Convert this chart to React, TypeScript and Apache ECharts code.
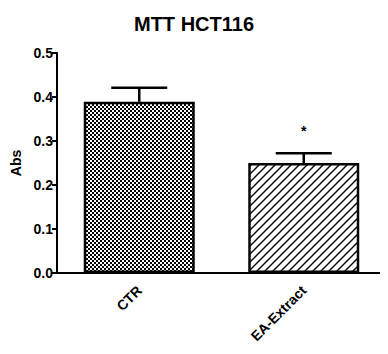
import React, { useEffect, useRef } from "react";
import * as echarts from "echarts";

const categories = ["CTR", "EA-Extract"];
const means = [0.389, 0.25];
const errors = [0.032, 0.022];
const significance = ["", "*"];
const yTicks = [0, 0.1, 0.2, 0.3, 0.4, 0.5];

const FONT = "Arial, 'Liberation Sans', sans-serif";

function makeChecker(): HTMLCanvasElement {
  const c = document.createElement("canvas");
  c.width = 4;
  c.height = 4;
  const ctx = c.getContext("2d")!;
  ctx.fillStyle = "#ffffff";
  ctx.fillRect(0, 0, 4, 4);
  ctx.fillStyle = "#000000";
  ctx.fillRect(0, 0, 2, 2);
  ctx.fillRect(2, 2, 2, 2);
  return c;
}

function makeHatch(): HTMLCanvasElement {
  const s = 8;
  const c = document.createElement("canvas");
  c.width = s;
  c.height = s;
  const ctx = c.getContext("2d")!;
  ctx.fillStyle = "#ffffff";
  ctx.fillRect(0, 0, s, s);
  ctx.strokeStyle = "#000000";
  ctx.lineWidth = 1.4;
  ctx.beginPath();
  ctx.moveTo(-1, s + 1);
  ctx.lineTo(s + 1, -1);
  ctx.moveTo(-2, 2);
  ctx.lineTo(2, -2);
  ctx.moveTo(s - 2, s + 2);
  ctx.lineTo(s + 2, s - 2);
  ctx.stroke();
  return c;
}

export default function App() {
  const ref = useRef<HTMLDivElement>(null);
  useEffect(() => {
    if (!ref.current) return;
    const chart = echarts.init(ref.current, null, { renderer: "svg" });
    const patterns = [makeChecker(), makeHatch()];
    chart.setOption({
      animation: false,
      backgroundColor: "#ffffff",
      title: {
        text: "MTT HCT116",
        left: "center",
        top: 9,
        textStyle: { fontFamily: FONT, fontSize: 20, fontWeight: "bold", color: "#000" },
      },
      grid: { left: 57, right: 2, top: 53, bottom: 81 },
      xAxis: {
        type: "category",
        data: categories,
        axisLine: { lineStyle: { color: "#000", width: 2 } },
        axisTick: { alignWithLabel: true, length: 7, lineStyle: { color: "#000", width: 2 } },
        axisLabel: {
          rotate: 45,
          margin: 15,
          fontFamily: FONT,
          fontSize: 14,
          fontWeight: "bold",
          color: "#000",
        },
      },
      yAxis: {
        type: "value",
        min: 0,
        max: 0.5,
        interval: 0.1,
        name: "Abs",
        nameLocation: "middle",
        nameGap: 34,
        nameTextStyle: { fontFamily: FONT, fontSize: 14, fontWeight: "bold", color: "#000" },
        axisLine: { show: true, lineStyle: { color: "#000", width: 2 } },
        axisTick: { show: true, length: 5, lineStyle: { color: "#000", width: 2 } },
        splitLine: { show: false },
        axisLabel: {
          margin: 4,
          fontFamily: FONT,
          fontSize: 14,
          fontWeight: "bold",
          color: "#000",
          formatter: (v: number) => (yTicks.includes(Math.round(v * 10) / 10) ? v.toFixed(1) : ""),
        },
      },
      series: [
        {
          type: "bar",
          barWidth: 111,
          data: means.map((m, i) => ({
            value: m,
            itemStyle: {
              color: { image: patterns[i], repeat: "repeat" },
              borderColor: "#000",
              borderWidth: 2.5,
            },
          })),
          z: 2,
        },
        {
          type: "custom",
          z: 3,
          data: means.map((m, i) => [i, m, errors[i]]),
          renderItem: (params: any, api: any) => {
            const i = api.value(0);
            const m = api.value(1);
            const e = api.value(2);
            const base = api.coord([i, m]);
            const top = api.coord([i, m + e]);
            const half = 28;
            const children: any[] = [
              {
                type: "line",
                shape: { x1: base[0], y1: base[1], x2: top[0], y2: top[1] },
                style: { stroke: "#000", lineWidth: 2.5 },
              },
              {
                type: "line",
                shape: { x1: top[0] - half, y1: top[1], x2: top[0] + half, y2: top[1] },
                style: { stroke: "#000", lineWidth: 2.5 },
              },
            ];
            const sig = significance[params.dataIndex];
            if (sig) {
              children.push({
                type: "text",
                x: top[0],
                y: top[1] - 22,
                style: {
                  text: sig,
                  fill: "#000",
                  font: `bold 14px ${FONT}`,
                  textAlign: "center",
                  textVerticalAlign: "middle",
                },
              });
            }
            return { type: "group", children };
          },
        },
      ],
    });
    return () => chart.dispose();
  }, []);
  return <div ref={ref} style={{ width: 388, height: 354, margin: -8 }} />;
}
